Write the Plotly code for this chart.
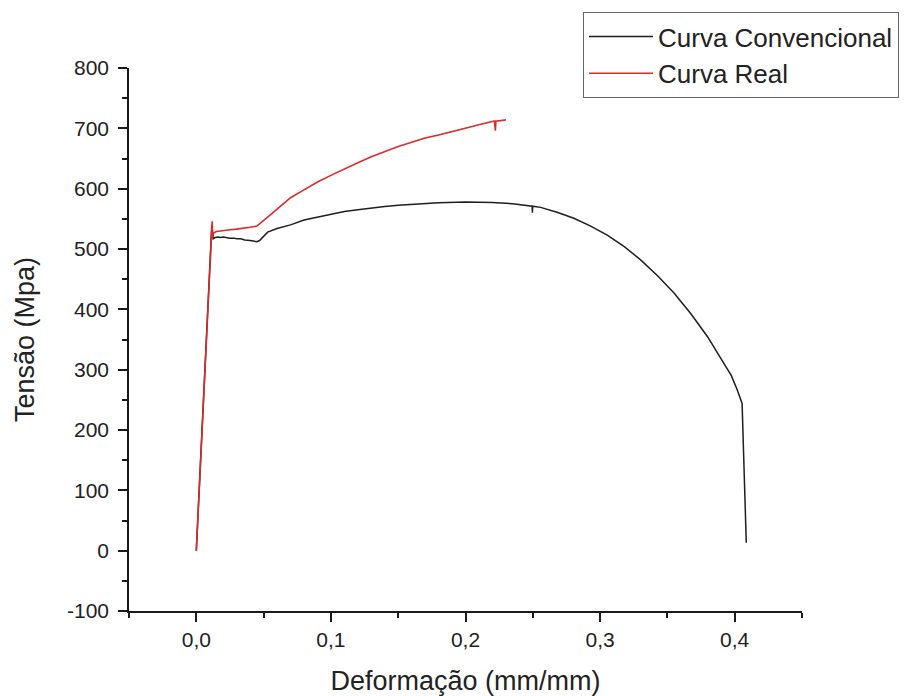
import plotly.graph_objects as go

# Curva Convencional (engineering stress-strain)
conv_strain = [0, 0.0115, 0.0125, 0.014, 0.016, 0.018, 0.02, 0.022, 0.025, 0.028,
               0.03, 0.033, 0.036, 0.04, 0.043, 0.045, 0.047, 0.05, 0.053, 0.06,
               0.07, 0.08, 0.09, 0.10, 0.11, 0.12, 0.13, 0.14, 0.15, 0.16,
               0.18, 0.20, 0.22, 0.235, 0.2495, 0.2497, 0.2499, 0.2558, 0.268,
               0.2805, 0.293, 0.3053, 0.318, 0.3301, 0.3425, 0.3549, 0.3673,
               0.3797, 0.3921, 0.3975, 0.4020, 0.4045, 0.4055, 0.4086]
conv_stress = [0, 540, 517, 519, 520, 519, 520, 519, 518, 518,
               517, 517, 515, 514, 513, 512, 514, 521, 528, 534,
               540, 548, 553, 558, 562, 565, 568, 570.5, 572.5, 574,
               576.5, 578, 577, 575, 571, 560, 571, 569, 561,
               551, 538, 523, 504, 482, 456, 427, 393,
               355, 311, 290, 266, 252, 244, 13]

# Curva Real (true stress-strain)
real_strain = [0, 0.0118, 0.0122, 0.013, 0.015, 0.02, 0.025, 0.03, 0.035, 0.04,
               0.045, 0.047, 0.05, 0.053, 0.06, 0.07, 0.08, 0.09, 0.10, 0.11,
               0.12, 0.13, 0.14, 0.15, 0.16, 0.17, 0.18, 0.19, 0.20, 0.21,
               0.2215, 0.2222, 0.2226, 0.23]
real_stress = [0, 546, 520, 527, 529, 531, 532, 533, 534, 536,
               538, 542, 548, 553, 566, 585, 598, 611, 622, 633,
               643, 653, 662, 670, 677, 684, 689, 695, 700, 706,
               712, 696, 712, 714]

x_ticks = [0.0, 0.1, 0.2, 0.3, 0.4]
x_ticklabels = ["0,0", "0,1", "0,2", "0,3", "0,4"]
y_ticks = [-100, 0, 100, 200, 300, 400, 500, 600, 700, 800]
y_ticklabels = ["-100", "0", "100", "200", "300", "400", "500", "600", "700", "800"]

FONT = "Liberation Sans, Arial, sans-serif"

fig = go.Figure()
fig.add_trace(go.Scatter(x=conv_strain, y=conv_stress, mode="lines",
                         name="Curva Convencional",
                         line=dict(color="#1e1e1e", width=1.5)))
fig.add_trace(go.Scatter(x=real_strain, y=real_stress, mode="lines",
                         name="Curva Real",
                         line=dict(color="#dc2a2a", width=1.6)))

axis_common = dict(showgrid=False, zeroline=False, showline=True,
                   linecolor="#1a1a1a", linewidth=1.6, ticks="outside",
                   ticklen=9, tickwidth=1.6, tickcolor="#1a1a1a",
                   automargin=False,
                   tickfont=dict(family=FONT, size=21, color="#222"))

fig.update_xaxes(range=[-0.05, 0.45], tickvals=x_ticks, ticktext=x_ticklabels,
                 minor=dict(ticks="outside", ticklen=5, dtick=0.05, tick0=0,
                            tickwidth=1.6, tickcolor="#1a1a1a"),
                 title=dict(text="Deformação (mm/mm)", standoff=21,
                            font=dict(family=FONT, size=27, color="#222")),
                 **axis_common)
fig.update_yaxes(range=[-100, 800], tickvals=y_ticks, ticktext=y_ticklabels,
                 ticklabelstandoff=5,
                 minor=dict(ticks="outside", ticklen=5, dtick=50, tick0=0,
                            tickwidth=1.6, tickcolor="#1a1a1a"),
                 title=dict(text="Tensão (Mpa)", standoff=25,
                            font=dict(family=FONT, size=27, color="#222")),
                 **axis_common)

fig.update_layout(
    width=914, height=696,
    margin=dict(l=129, r=112, t=68, b=85),
    paper_bgcolor="white", plot_bgcolor="white",
    showlegend=True,
    legend=dict(x=0.6746, y=1.103, xanchor="left", yanchor="top",
                bgcolor="white", bordercolor="#666", borderwidth=1,
                font=dict(family=FONT, size=26, color="#222"),
                itemwidth=64, tracegroupgap=0),
)

fig.write_html("out.html")
